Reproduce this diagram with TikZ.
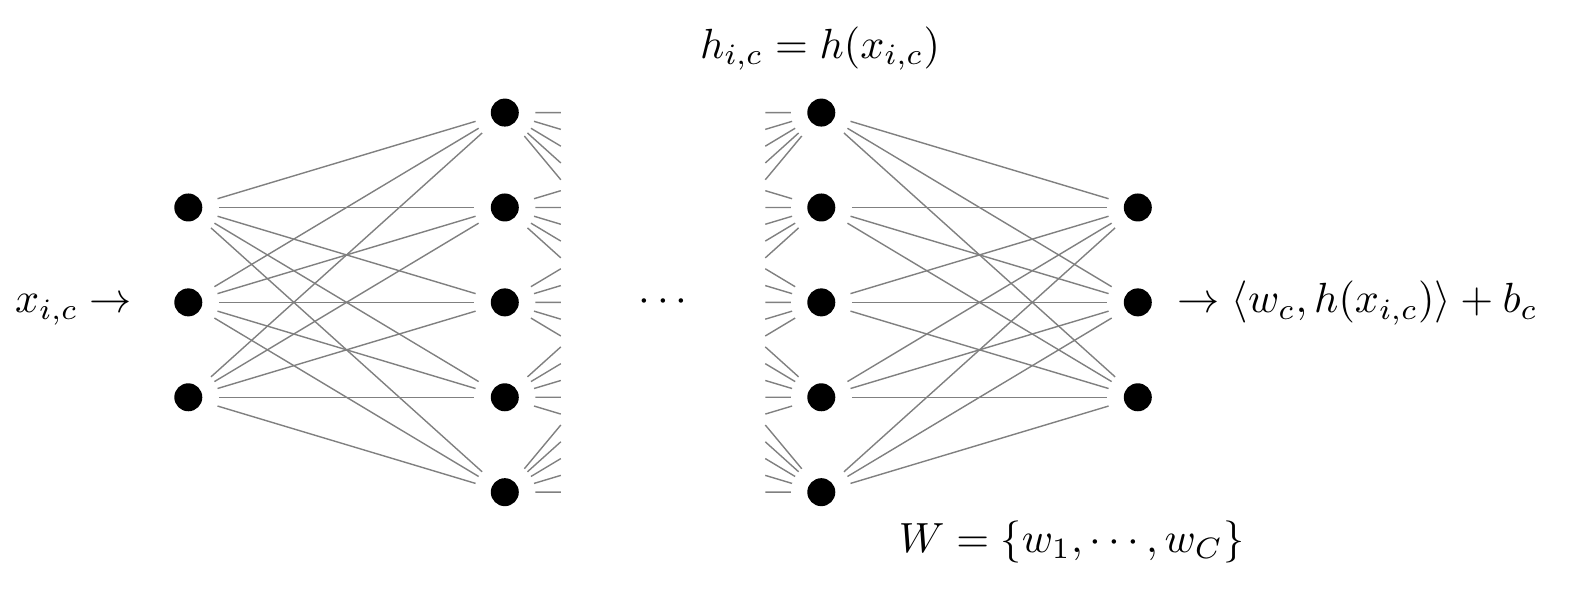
\documentclass[tikz,border=0pt]{standalone}
\usetikzlibrary{calc}
\begin{document}
\begin{tikzpicture}[
  dot/.style={circle,fill=black,minimum size=0.28cm,inner sep=0pt,outer sep=0.165cm},
  conn/.style={draw=gray,line width=0.4pt},
  lbl/.style={inner sep=0pt,scale=1.2,transform shape}
]
\useasboundingbox (0,0) rectangle (15.75,5.93);
% input layer
\foreach \k/\y in {1/3.855,2/2.906,3/1.957} \node[dot] (i\k) at (1.883,\y) {};
% output layer
\foreach \k/\y in {1/3.855,2/2.906,3/1.957} \node[dot] (o\k) at (11.378,\y) {};
% hidden layers
\foreach \k/\y in {1/4.804,2/3.855,3/2.906,4/1.957,5/1.008} {
  \node[dot] (a\k) at (5.048,\y) {};
  \node[dot] (b\k) at (8.213,\y) {};
}
% full connections
\foreach \p in {1,2,3} \foreach \q in {1,...,5} {
  \draw[conn] (i\p) -- (a\q);
  \draw[conn] (b\q) -- (o\p);
}
% stubs
\foreach \p in {1,...,5} \foreach \q in {1,...,5} {
  \draw[conn] (a\p) -- ($(a\p.center)!0.177!(b\q.center)$);
  \draw[conn] (b\q) -- ($(b\q.center)!0.177!(a\p.center)$);
}
\node[lbl] (dots) at (6.63,2.913) {$\cdots$};
\node[lbl,anchor=base east] (xin) at (1.33,2.80) {$x_{i,c}\rightarrow$};
\node[lbl,anchor=base west] (yout) at (11.77,2.80) {$\rightarrow\langle w_c,h(x_{i,c})\rangle+b_c$};
\node[lbl] (hlab) at (8.20,5.443) {$h_{i,c}=h(x_{i,c})$};
\node[lbl] (wlab) at (10.717,0.515) {$W=\{w_1,\cdots,w_C\}$};
\end{tikzpicture}
\end{document}
